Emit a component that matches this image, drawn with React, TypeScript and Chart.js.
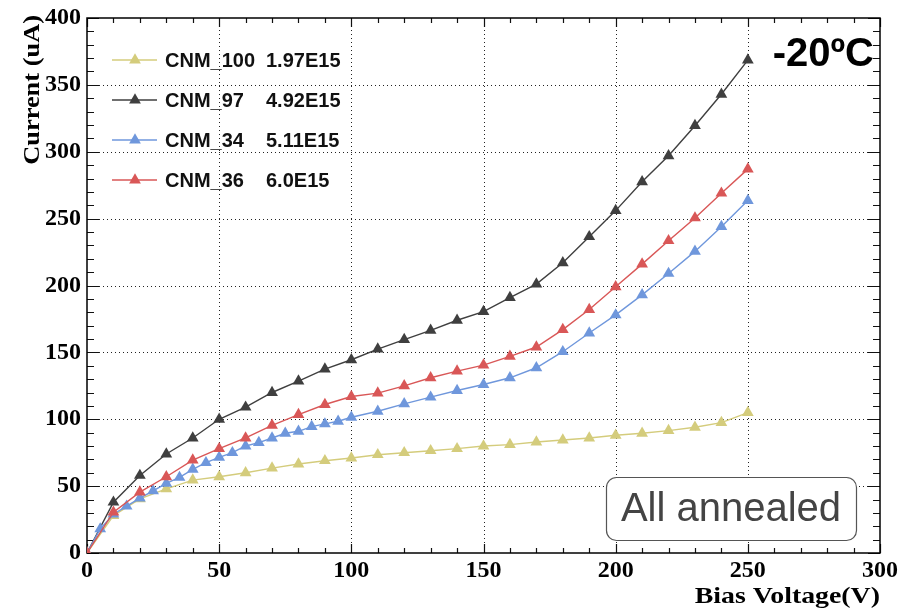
import { useEffect, useRef } from "react";
import { Chart, registerables } from "chart.js";

Chart.register(...registerables);

// ---- data ----
const voltages: number[] = [0, 10, 20, 30, 40, 50, 60, 70, 80, 90, 100, 110, 120, 130, 140, 150, 160, 170, 180, 190, 200, 210, 220, 230, 240, 250];
const voltagesFine: number[] = [0, 5, 10, 15, 20, 25, 30, 35, 40, 45, 50, 55, 60, 65, 70, 75, 80, 85, 90, 95, 100, 110, 120, 130, 140, 150, 160, 170, 180, 190, 200, 210, 220, 230, 240, 250];

const cnm100: number[] = [0, 28, 40.5, 48, 54.5, 57, 60, 63.5, 66.5, 69, 71, 73.5, 75, 76.5, 78, 80, 81, 83, 84.5, 86, 88, 89.5, 91.5, 94, 97.5, 105];
const cnm97: number[] = [0, 38, 58, 74, 86, 100, 109, 120, 128.5, 137.5, 144.5, 152.5, 159.5, 166.5, 174, 180.5, 191, 201, 217, 236.5, 256, 277.5, 297, 319.5, 343, 368.5];
const cnm34: number[] = [0, 18, 29, 35, 41, 46.5, 52, 56.5, 62.5, 67.5, 71.5, 75, 80, 82.5, 86, 89.5, 91, 94.5, 96.5, 98.5, 101.5, 106, 111.5, 116.5, 121.5, 126, 131, 138.5, 150.5, 164.5, 178, 193, 209, 225.5, 244, 263.5];
const cnm36: number[] = [0, 30.5, 45.5, 57, 69.5, 78, 86, 95.5, 103.5, 111, 117, 119.5, 125, 131, 136, 140.5, 147, 154, 167, 182, 199, 216, 233.5, 250.5, 269, 287];

const seriesNames: string[] = ["CNM_100", "CNM_97", "CNM_34", "CNM_36"];
const seriesFluences: string[] = ["1.97E15", "4.92E15", "5.11E15", "6.0E15"];
const seriesColors: string[] = ["#d4cc7c", "#3f3f3f", "#6f97dc", "#d95757"];

const xTickValues: number[] = [0, 50, 100, 150, 200, 250, 300];
const xTickLabels: string[] = ["0", "50", "100", "150", "200", "250", "300"];
const yTickValues: number[] = [0, 50, 100, 150, 200, 250, 300, 350, 400];
const yTickLabels: string[] = ["0", "50", "100", "150", "200", "250", "300", "350", "400"];

const xTitle = "Bias Voltage(V)";
const yTitle = "Current (uA)";
const tempLabel = "-20ºC";
const boxLabel = "All annealed";

const SERIF = "'Liberation Serif', 'DejaVu Serif', serif";
const SANS = "'Liberation Sans', Arial, sans-serif";

function toPoints(xs: number[], ys: number[]) {
  return xs.map((x, i) => ({ x, y: ys[i] }));
}

function tri(ctx: CanvasRenderingContext2D, x: number, y: number, r: number) {
  ctx.beginPath();
  let a = 0;
  ctx.moveTo(x + Math.sin(a) * r, y - Math.cos(a) * r);
  a += (2 * Math.PI) / 3;
  ctx.lineTo(x + Math.sin(a) * r, y - Math.cos(a) * r);
  a += (2 * Math.PI) / 3;
  ctx.lineTo(x + Math.sin(a) * r, y - Math.cos(a) * r);
  ctx.closePath();
  ctx.fill();
}

const POINT_R = 6.8;

const framePlugin = {
  id: "rootFrame",
  beforeDatasetsDraw(chart: any) {
    const { ctx, chartArea, scales } = chart;
    const { left, right, top, bottom } = chartArea;
    const xs = scales.x;
    const ys = scales.y;
    ctx.save();
    // dotted grid
    ctx.strokeStyle = "#222";
    ctx.lineWidth = 1;
    ctx.setLineDash([1, 3]);
    for (const v of xTickValues) {
      if (v <= xs.min || v >= xs.max) continue;
      const px = Math.round(xs.getPixelForValue(v)) + 0.5;
      ctx.beginPath();
      ctx.moveTo(px, top);
      ctx.lineTo(px, bottom);
      ctx.stroke();
    }
    for (const v of yTickValues) {
      if (v <= ys.min || v >= ys.max) continue;
      const py = Math.round(ys.getPixelForValue(v)) + 0.5;
      ctx.beginPath();
      ctx.moveTo(left, py);
      ctx.lineTo(right, py);
      ctx.stroke();
    }
    ctx.setLineDash([]);
    // ticks
    ctx.strokeStyle = "#111";
    ctx.lineWidth = 1.2;
    for (let v = xs.min; v <= xs.max + 1e-6; v += 10) {
      const major = Math.abs(v % 50) < 1e-6;
      const len = major ? 9 : 5;
      const px = Math.round(xs.getPixelForValue(v)) + 0.5;
      ctx.beginPath();
      ctx.moveTo(px, bottom);
      ctx.lineTo(px, bottom - len);
      ctx.moveTo(px, top);
      ctx.lineTo(px, top + len);
      ctx.stroke();
    }
    for (let v = ys.min; v <= ys.max + 1e-6; v += 10) {
      const major = Math.abs(v % 50) < 1e-6;
      const len = major ? 12 : 7;
      const py = Math.round(ys.getPixelForValue(v)) + 0.5;
      ctx.beginPath();
      ctx.moveTo(left, py);
      ctx.lineTo(left + len, py);
      ctx.moveTo(right, py);
      ctx.lineTo(right - len, py);
      ctx.stroke();
    }
    // frame
    ctx.strokeStyle = "#000";
    ctx.lineWidth = 1.5;
    ctx.strokeRect(left, top, right - left, bottom - top);
    ctx.restore();
  },
  afterDraw(chart: any) {
    const { ctx, chartArea } = chart;
    const { left, right, top, bottom } = chartArea;
    ctx.save();
    // axis titles (slightly widened like the original rendering)
    ctx.fillStyle = "#000";
    ctx.font = `bold 24px ${SERIF}`;
    ctx.textBaseline = "alphabetic";
    ctx.save();
    ctx.translate(right, 603);
    ctx.scale(1.16, 1);
    ctx.textAlign = "right";
    ctx.fillText(xTitle, 0, 0);
    ctx.restore();
    ctx.save();
    ctx.translate(39, top - 3);
    ctx.rotate(-Math.PI / 2);
    ctx.scale(1.1, 1);
    ctx.textAlign = "right";
    ctx.fillText(yTitle, 0, 0);
    ctx.restore();

    // legend
    for (let i = 0; i < seriesNames.length; i++) {
      const y = top + 42 + 40 * i;
      ctx.strokeStyle = seriesColors[i];
      ctx.lineWidth = 1.5;
      ctx.beginPath();
      ctx.moveTo(left + 25, y);
      ctx.lineTo(left + 70, y);
      ctx.stroke();
      ctx.fillStyle = seriesColors[i];
      tri(ctx, left + 48, y, POINT_R);
      ctx.fillStyle = "#111";
      ctx.font = `bold 20px ${SANS}`;
      ctx.textAlign = "left";
      ctx.textBaseline = "middle";
      ctx.fillText(seriesNames[i], left + 78, y + 1);
      ctx.fillText(seriesFluences[i], left + 179, y + 1);
    }

    // temperature label
    ctx.fillStyle = "#000";
    ctx.font = `bold 40px ${SANS}`;
    ctx.textAlign = "right";
    ctx.textBaseline = "middle";
    ctx.fillText(tempLabel, right - 6, top + 37);

    // annealed box
    const bw = 250, bh = 63;
    const bx = right - 24 - bw;
    const by = bottom - 76;
    ctx.beginPath();
    (ctx as any).roundRect(bx + 0.5, by + 0.5, bw, bh, 10);
    ctx.fillStyle = "#fff";
    ctx.fill();
    ctx.strokeStyle = "#555";
    ctx.lineWidth = 1.2;
    ctx.stroke();
    ctx.fillStyle = "#444";
    ctx.font = `40px ${SANS}`;
    ctx.textAlign = "center";
    ctx.textBaseline = "middle";
    ctx.fillText(boxLabel, bx + bw / 2, by + bh / 2 + 1);
    ctx.restore();
  },
};

export default function App() {
  const canvasRef = useRef<HTMLCanvasElement | null>(null);

  useEffect(() => {
    if (!canvasRef.current) return;
    const mk = (label: string, xs: number[], ys: number[], color: string, order: number) => ({
      label,
      data: toPoints(xs, ys),
      showLine: true,
      borderColor: color,
      backgroundColor: color,
      borderWidth: 1.4,
      pointStyle: "triangle",
      pointRadius: POINT_R,
      pointBackgroundColor: color,
      pointBorderColor: color,
      pointBorderWidth: 0,
      tension: 0,
      order,
    });
    const chart = new Chart(canvasRef.current, {
      type: "scatter",
      data: {
        datasets: [
          mk(seriesNames[0], voltages, cnm100, seriesColors[0], 4),
          mk(seriesNames[1], voltages, cnm97, seriesColors[1], 3),
          mk(seriesNames[2], voltagesFine, cnm34, seriesColors[2], 2),
          mk(seriesNames[3], voltages, cnm36, seriesColors[3], 1),
        ] as any,
      },
      options: {
        responsive: true,
        maintainAspectRatio: false,
        animation: false,
        layout: { padding: { top: 13, right: 22, left: 0, bottom: 0 } },
        plugins: {
          legend: { display: false },
          tooltip: { enabled: false },
        },
        scales: {
          x: {
            type: "linear",
            min: 0,
            max: 300,
            afterFit: (s: any) => {
              s.height = 60;
            },
            afterBuildTicks: (s: any) => {
              s.ticks = xTickValues.map((v) => ({ value: v }));
            },
            grid: { display: false, drawTicks: false },
            border: { display: false },
            ticks: {
              color: "#000",
              padding: 6,
              maxRotation: 0,
              autoSkip: false,
              font: { family: SERIF, weight: "bold", size: 24, lineHeight: 1 },
              callback: (v: any) => xTickLabels[xTickValues.indexOf(Number(v))] ?? "",
            },
          },
          y: {
            type: "linear",
            min: 0,
            max: 400,
            afterFit: (s: any) => {
              s.width = 87;
            },
            afterBuildTicks: (s: any) => {
              s.ticks = yTickValues.map((v) => ({ value: v }));
            },
            grid: { display: false, drawTicks: false },
            border: { display: false },
            ticks: {
              color: "#000",
              padding: 6,
              autoSkip: false,
              font: { family: SERIF, weight: "bold", size: 24, lineHeight: 1 },
              callback: (v: any) => yTickLabels[yTickValues.indexOf(Number(v))] ?? "",
            },
          },
        },
      } as any,
      plugins: [framePlugin],
    });
    return () => chart.destroy();
  }, []);

  return (
    <div style={{ position: "fixed", left: 0, top: 0, width: 904, height: 613, background: "#fff" }}>
      <canvas ref={canvasRef} />
    </div>
  );
}
